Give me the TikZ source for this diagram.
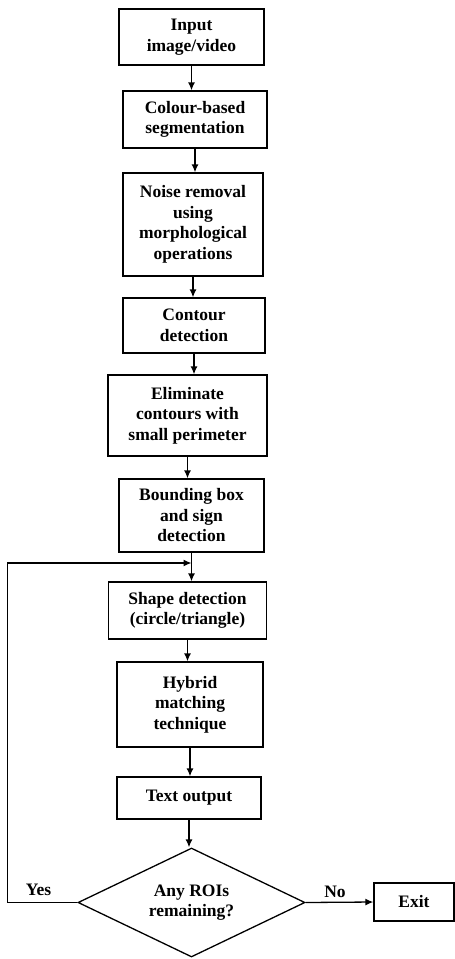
\documentclass[tikz,border=0pt]{standalone}
\usepackage{fontspec}
\setmainfont{Liberation Serif}
\usetikzlibrary{shapes.geometric}
\usetikzlibrary{arrows.meta}

\begin{document}
\begin{tikzpicture}
[x=1pt,y=-1pt,
  boxdecorate/.style 2 args={shape=rectangle,draw,line width=1.3pt,inner sep=0pt,
    minimum width=#1,minimum height=#2,align=center,
    font=\bfseries\fontsize{17.5}{20.5}\selectfont},%
  diamonddecorate/.style={shape=diamond,draw,line width=1.3pt,inner sep=0pt,aspect=2,
    minimum width=227,minimum height=109,align=center,
    font=\bfseries\fontsize{17.5}{20.5}\selectfont},%
  linedecorate/.style={-{Latex[length=8pt,width=7pt]},line width=1.3pt},%
  labeldecorate/.style={inner sep=0pt,font=\bfseries\fontsize{17.5}{20.5}\selectfont}]
%%
\useasboundingbox (0,0) rectangle (455,959);
%%
%% Process boxes
\node (input)     at (191.5,37)  [boxdecorate={145}{56}]  {Input\\image/video};
\node (colour)    at (195,119.5) [boxdecorate={144}{57}]  {Colour-based\\segmentation};
\node (noise)     at (193,224.5) [boxdecorate={140}{103}] {Noise removal\\using\\morphological\\operations};
\node (contour)   at (194,325.5) [boxdecorate={142}{55}]  {Contour\\detection};
\node (eliminate) at (187.5,415.5) [boxdecorate={159}{81}] {Eliminate\\contours with\\small perimeter};
\node (bbox)      at (191.5,515.5) [boxdecorate={145}{73}] {Bounding box\\and sign\\detection};
\node (shape)     at (187.5,610.5) [boxdecorate={158}{57}] {Shape detection\\(circle/triangle)};
\node (hybrid)    at (190,704.5) [boxdecorate={146}{85}]   {Hybrid\\matching\\technique};
\node (text)      at (189,798)   [boxdecorate={144}{42}]   {Text output};
%% Decision and exit
\node (roi)       at (191.5,902.5) [diamonddecorate]       {Any ROIs\\remaining?};
\node (exit)      at (414,902)   [boxdecorate={80}{38}]    {Exit};
%%
%% Straight flow
\foreach \startnode/\endnode in {input/colour, colour/noise, noise/contour,
    contour/eliminate, eliminate/bbox, bbox/shape, shape/hybrid, hybrid/text, text/roi}
{
  \draw[linedecorate] (\startnode.south) -- (\startnode.south |- \endnode.north);
}
%%
%% Loop back and exit
\coordinate (loop) at (191.5,563);
\draw[linedecorate] (roi.west) -- ++(-70,0) |- (loop);
\draw[linedecorate] (roi.east) -- (exit.west);
\node (yes) at (38.5,890) [labeldecorate] {Yes};
\node (no)  at (335,892)  [labeldecorate] {No};
\end{tikzpicture}
\end{document}
